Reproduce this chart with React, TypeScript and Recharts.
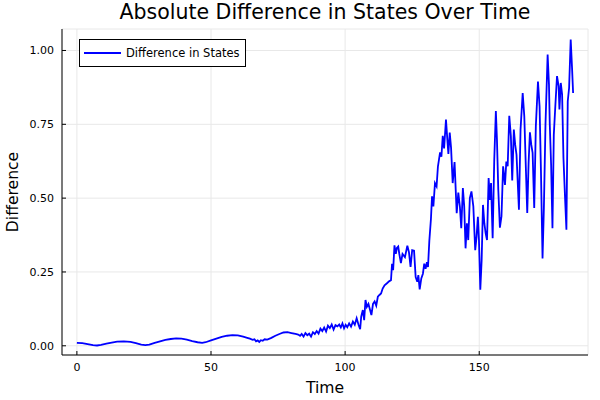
import React from "react";
import { LineChart, Line, XAxis, YAxis, CartesianGrid, Legend, Label } from "recharts";

const FONT = "'DejaVu Sans', sans-serif";

// time samples
const time = [
  0, 2, 4, 6, 7.5, 9, 11, 13, 15, 17.5, 20, 22, 24, 25.5, 27, 29, 31, 33, 35, 37,
  39, 41, 43, 45, 46.7, 48, 50, 52, 54, 56, 58, 60, 62, 63.5, 64.5, 65.5, 66.2, 66.8, 67.4, 68,
  68.6, 69.3, 70, 71, 72.5, 74, 75.5, 77, 78.5, 80, 81.5, 82.5, 83.2, 83.8, 84.5, 85.2, 85.9, 86.6, 87.3, 88,
  88.7, 89.4, 90.1, 90.8, 91.5, 92.2, 92.9, 93.6, 94.3, 95, 95.7, 96.4, 97.1, 97.8, 98.4, 99, 99.6, 100.2, 100.8, 101.5,
  102.2, 102.9, 103.6, 104.3, 105, 105.6, 106, 106.6, 107.1, 107.6, 108.1, 108.7, 109.3, 109.8, 110.4, 111, 111.6, 112.2, 112.8, 113.4,
  114, 114.7, 115.5, 116.5, 117.1, 117.5, 117.9, 118.4, 118.9, 119.3, 119.8, 120.2, 120.8, 121.4, 122.3, 123.2, 123.8, 124.4, 125, 125.7,
  126.3, 126.9, 127.3, 127.8, 128.4, 129, 129.5, 130, 130.5, 130.9, 131.4, 132, 132.4, 132.9, 133.5, 134.1, 134.6, 135.4, 135.9, 136.4,
  136.9, 137.6, 138.1, 138.5, 139, 139.5, 140.1, 140.8, 141.6, 142.2, 142.8, 143.3, 143.9, 144.4, 144.9, 145.4, 145.9, 146.5, 147.1, 147.8,
  148.5, 149, 149.5, 149.9, 150.4, 150.9, 151.4, 151.9, 152.4, 152.9, 153.5, 154, 154.4, 155, 155.6, 156.2, 156.6, 157.1, 157.7, 158.3,
  158.9, 159.6, 160.1, 160.6, 161.2, 161.8, 162.3, 162.9, 163.4, 163.9, 164.8, 165.4, 166.2, 166.8, 167.4, 167.9, 168.4, 168.9, 169.4, 169.9,
  170.5, 171.1, 171.9, 172.5, 173, 173.6, 174.1, 174.7, 175.5, 176, 176.3, 176.8, 177.3, 177.8, 178.4, 179, 179.6, 179.9, 180.4, 180.9,
  181.4, 182, 182.5, 183, 183.5, 184.1, 184.6, 185,
];

// absolute difference between the two states
const diff = [
  0.010, 0.009, 0.006, 0.002, 0.001, 0.003, 0.007, 0.011, 0.014, 0.015, 0.013, 0.009, 0.004, 0.002, 0.004, 0.010, 0.015, 0.020, 0.023, 0.025,
  0.024, 0.021, 0.016, 0.012, 0.010, 0.012, 0.018, 0.024, 0.030, 0.034, 0.036, 0.035, 0.031, 0.027, 0.024, 0.020, 0.022, 0.015, 0.018, 0.013,
  0.019, 0.017, 0.022, 0.021, 0.027, 0.034, 0.040, 0.045, 0.046, 0.043, 0.040, 0.038, 0.034, 0.040, 0.031, 0.043, 0.036, 0.041, 0.031, 0.046,
  0.040, 0.050, 0.041, 0.058, 0.050, 0.062, 0.048, 0.068, 0.060, 0.072, 0.055, 0.070, 0.066, 0.072, 0.062, 0.076, 0.059, 0.071, 0.063, 0.076,
  0.065, 0.082, 0.071, 0.093, 0.071, 0.056, 0.099, 0.121, 0.087, 0.155, 0.132, 0.142, 0.121, 0.104, 0.142, 0.150, 0.136, 0.166, 0.172, 0.177,
  0.194, 0.205, 0.211, 0.219, 0.222, 0.278, 0.256, 0.340, 0.311, 0.331, 0.336, 0.311, 0.280, 0.311, 0.300, 0.339, 0.317, 0.267, 0.324, 0.322,
  0.233, 0.217, 0.239, 0.191, 0.228, 0.244, 0.278, 0.261, 0.283, 0.267, 0.356, 0.430, 0.506, 0.472, 0.551, 0.540, 0.607, 0.655, 0.640, 0.711,
  0.668, 0.766, 0.700, 0.650, 0.722, 0.670, 0.551, 0.622, 0.449, 0.519, 0.470, 0.398, 0.534, 0.472, 0.330, 0.415, 0.358, 0.500, 0.523, 0.472,
  0.324, 0.369, 0.437, 0.358, 0.190, 0.290, 0.477, 0.415, 0.381, 0.358, 0.568, 0.494, 0.551, 0.364, 0.630, 0.795, 0.700, 0.529, 0.400, 0.439,
  0.608, 0.545, 0.624, 0.608, 0.779, 0.709, 0.560, 0.732, 0.681, 0.647, 0.461, 0.732, 0.856, 0.777, 0.596, 0.450, 0.619, 0.723, 0.681, 0.653,
  0.467, 0.743, 0.895, 0.810, 0.596, 0.296, 0.466, 0.749, 0.986, 0.885, 0.749, 0.613, 0.398, 0.715, 0.817, 0.913, 0.879, 0.800, 0.890, 0.851,
  0.636, 0.500, 0.393, 0.828, 0.873, 1.037, 0.941, 0.856,
];

const xTicks = [0, 50, 100, 150];
const yTicks = [0, 0.25, 0.5, 0.75, 1.0];

const data = time.map((t, i) => ({ time: t, diff: diff[i] }));

const XTick = ({ x, y, payload }: any) => (
  <g>
    <line x1={x} x2={x} y1={y} y2={y - 4} stroke="#000" />
    <text x={x} y={y + 16} textAnchor="middle" fontSize={11} fill="#000" fontFamily={FONT}>
      {payload.value}
    </text>
  </g>
);

const YTick = ({ x, y, payload }: any) => (
  <g>
    <line x1={x} x2={x + 4} y1={y} y2={y} stroke="#000" />
    <text x={x - 8} y={y + 4} textAnchor="end" fontSize={11} fill="#000" fontFamily={FONT}>
      {payload.value.toFixed(2)}
    </text>
  </g>
);

const LegendBox = () => (
  <div
    style={{
      width: 167,
      height: 28,
      boxSizing: "border-box",
      border: "1px solid #000",
      background: "#fff",
      display: "flex",
      alignItems: "center",
      fontFamily: FONT,
      fontSize: 11.5,
      color: "#000",
    }}
  >
    <span style={{ display: "inline-block", width: 37, borderTop: "2px solid #0000ff", marginLeft: 4, marginRight: 5 }} />
    Difference in States
  </div>
);

export default function App() {
  return (
    <div style={{ position: "fixed", left: 0, top: 0, background: "#fff" }}>
      <LineChart width={600} height={400} data={data} margin={{ top: 29, right: 12, bottom: 0, left: 0 }}>
        <CartesianGrid stroke="#e8e8e8" strokeWidth={1} />
        <XAxis
          dataKey="time"
          type="number"
          domain={[-5.55, 190.55]}
          ticks={xTicks}
          interval={0}
          allowDataOverflow
          height={45}
          tickSize={0}
          tickMargin={0}
          tickLine={false}
          axisLine={{ stroke: "#000" }}
          tick={<XTick />}
        >
          <Label
            content={() => (
              <text x={325} y={393} textAnchor="middle" fontSize={15.6} fontFamily={FONT} fill="#000">
                Time
              </text>
            )}
          />
          <Label
            content={() => (
              <text x={325} y={19} textAnchor="middle" fontSize={20.5} fontFamily={FONT} fill="#000">
                Absolute Difference in States Over Time
              </text>
            )}
          />
        </XAxis>
        <YAxis
          type="number"
          domain={[-0.0312, 1.0727]}
          ticks={yTicks}
          interval={0}
          allowDataOverflow
          width={62}
          tickSize={0}
          tickMargin={0}
          tickLine={false}
          axisLine={{ stroke: "#000" }}
          tick={<YTick />}
        >
          <Label
            content={() => (
              <text
                x={18}
                y={192}
                transform="rotate(-90 18 192)"
                textAnchor="middle"
                fontSize={15.6}
                fontFamily={FONT}
                fill="#000"
              >
                Difference
              </text>
            )}
          />
        </YAxis>
        <Legend
          layout="vertical"
          align="center"
          verticalAlign="middle"
          content={<LegendBox />}
          wrapperStyle={{ left: 79, top: 39, width: 167, height: 28 }}
        />
        <Line
          type="linear"
          dataKey="diff"
          stroke="#0000ff"
          strokeWidth={1.8}
          dot={false}
          isAnimationActive={false}
        />
      </LineChart>
    </div>
  );
}
